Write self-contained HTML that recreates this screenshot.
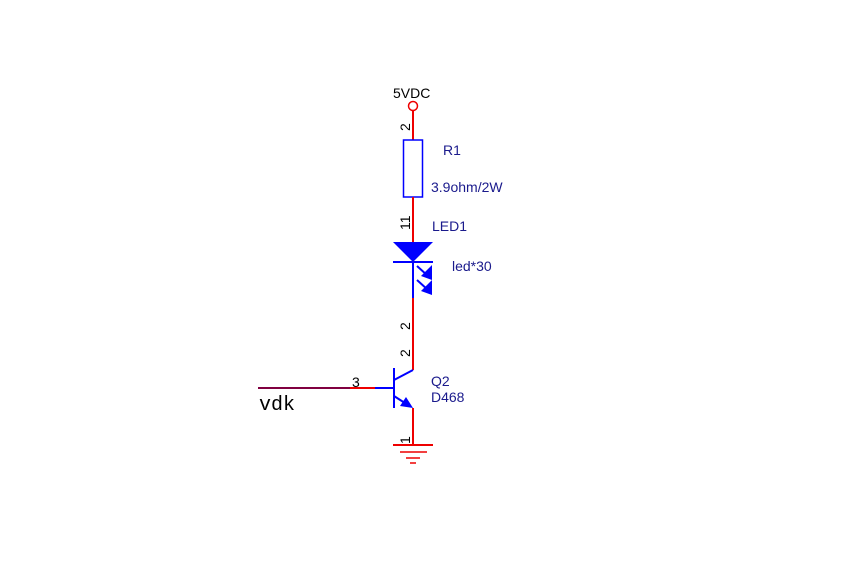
<!DOCTYPE html>
<html><head><style>body{margin:0;background:#fff}.m{font-family:"Liberation Mono",monospace}</style></head><body>
<svg width="867" height="567" viewBox="0 0 867 567" xmlns="http://www.w3.org/2000/svg" style="font-family:'Liberation Sans',sans-serif">
<rect width="867" height="567" fill="#fff"/>
<text x="393" y="98" font-size="14" fill="#000">5VDC</text>
<circle cx="413" cy="106" r="4.5" fill="none" stroke="#e00" stroke-width="1.5"/>
<line x1="413" y1="110" x2="413" y2="140" stroke="#e00" stroke-width="2"/>
<rect x="403.5" y="140" width="19" height="57" fill="none" stroke="#00f" stroke-width="1.5"/>
<line x1="413" y1="197" x2="413" y2="242" stroke="#e00" stroke-width="2"/>
<g fill="#1a1a8c" font-size="14">
<text x="443" y="155">R1</text>
<text x="431" y="192">3.9ohm/2W</text>
<text x="432" y="231">LED1</text>
<text x="452" y="271">led*30</text>
<text x="431" y="386">Q2</text>
<text x="431" y="402">D468</text>
</g>
<polygon points="393,242 433,242 413,262" fill="#00f"/>
<line x1="393" y1="262" x2="433" y2="262" stroke="#00f" stroke-width="2"/>
<line x1="413" y1="262" x2="413" y2="298" stroke="#00f" stroke-width="2"/>
<line x1="417" y1="266" x2="428" y2="276" stroke="#00f" stroke-width="2"/>
<polygon points="432,265 432,280 421,276" fill="#00f"/>
<line x1="417" y1="280" x2="428" y2="290" stroke="#00f" stroke-width="2"/>
<polygon points="432,280 432,295 421,291" fill="#00f"/>
<line x1="413" y1="298" x2="413" y2="370" stroke="#e00" stroke-width="2"/>
<g font-size="14" fill="#000">
<text transform="translate(410,131) rotate(-90)">2</text>
<text transform="translate(410,230) rotate(-90)">11</text>
<text transform="translate(410,330) rotate(-90)">2</text>
<text transform="translate(410,357) rotate(-90)">2</text>
<text transform="translate(410,444) rotate(-90)">1</text>
</g>
<line x1="258" y1="388" x2="350" y2="388" stroke="#800040" stroke-width="2"/>
<line x1="350" y1="388" x2="375" y2="388" stroke="#e00" stroke-width="2"/>
<line x1="375" y1="388" x2="394" y2="388" stroke="#00f" stroke-width="2"/>
<text x="352" y="387" font-size="14" fill="#000">3</text>
<text x="259" y="410" font-size="20" class="m" fill="#000" style="font-family:'Liberation Mono',monospace">vdk</text>
<line x1="394" y1="368" x2="394" y2="408" stroke="#00f" stroke-width="2"/>
<line x1="394" y1="380" x2="413" y2="370" stroke="#00f" stroke-width="2"/>
<line x1="394" y1="396" x2="408" y2="405" stroke="#00f" stroke-width="2"/>
<polygon points="413,408 400,406 406,397" fill="#00f"/>
<line x1="413" y1="408" x2="413" y2="445" stroke="#e00" stroke-width="2"/>
<line x1="393" y1="445" x2="433" y2="445" stroke="#e00" stroke-width="2"/>
<line x1="400" y1="452" x2="427" y2="452" stroke="#e00" stroke-width="1.5"/>
<line x1="406" y1="458" x2="420" y2="458" stroke="#e00" stroke-width="1.5"/>
<line x1="410" y1="463" x2="416" y2="463" stroke="#e00" stroke-width="1.5"/>
</svg>
</body></html>
